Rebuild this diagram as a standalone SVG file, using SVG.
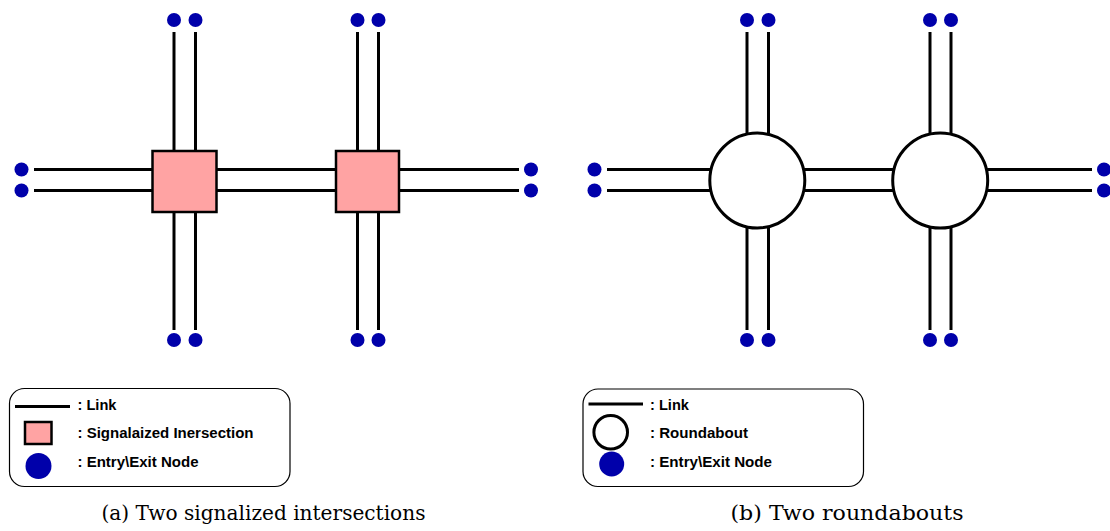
<svg xmlns="http://www.w3.org/2000/svg" width="1110" height="531" viewBox="0 0 1110 531">
  <style>
    .link { stroke: #000; stroke-width: 3; fill: none; }
    .node { fill: #0000aa; }
    .sig { fill: #ffa3a3; stroke: #000; stroke-width: 2.5; }
    .rb { fill: #fff; stroke: #000; stroke-width: 3; }
    .legend { fill: #fff; stroke: #000; stroke-width: 1.2; }
    .lbl { font-family: "Liberation Sans", Arial, sans-serif; font-weight: bold; font-size: 14px; fill: #000; }
    .cap { font-family: "DejaVu Serif", "Liberation Serif", serif; font-size: 19.5px; fill: #000; }
  </style>

  <!-- (a) two signalized intersections -->
  <g id="links-a">
    <!-- west approach -->
    <line class="link" x1="34" y1="169.5" x2="153" y2="169.5"/>
    <line class="link" x1="34" y1="190.5" x2="153" y2="190.5"/>
    <!-- between intersections -->
    <line class="link" x1="216" y1="169.5" x2="336" y2="169.5"/>
    <line class="link" x1="216" y1="190.5" x2="336" y2="190.5"/>
    <!-- east approach -->
    <line class="link" x1="399" y1="169.5" x2="519" y2="169.5"/>
    <line class="link" x1="399" y1="190.5" x2="519" y2="190.5"/>
    <!-- north/south of intersection 1 -->
    <line class="link" x1="174" y1="32" x2="174" y2="151"/>
    <line class="link" x1="195.5" y1="32" x2="195.5" y2="151"/>
    <line class="link" x1="174" y1="212" x2="174" y2="330"/>
    <line class="link" x1="195.5" y1="212" x2="195.5" y2="330"/>
    <!-- north/south of intersection 2 -->
    <line class="link" x1="357.5" y1="32" x2="357.5" y2="151"/>
    <line class="link" x1="378.5" y1="32" x2="378.5" y2="151"/>
    <line class="link" x1="357.5" y1="212" x2="357.5" y2="330"/>
    <line class="link" x1="378.5" y1="212" x2="378.5" y2="330"/>
  </g>

  <g id="intersection-a1"><rect class="sig" x="152.5" y="151" width="64" height="61"/></g>
  <g id="intersection-a2"><rect class="sig" x="336" y="151" width="63" height="61"/></g>

  <g id="nodes-a">
    <circle class="node" cx="174" cy="20" r="7"/>
    <circle class="node" cx="195.5" cy="20" r="7"/>
    <circle class="node" cx="357.5" cy="20" r="7"/>
    <circle class="node" cx="378.5" cy="20" r="7"/>
    <circle class="node" cx="21.5" cy="169.5" r="7"/>
    <circle class="node" cx="21.5" cy="190.5" r="7"/>
    <circle class="node" cx="531" cy="169.5" r="7"/>
    <circle class="node" cx="531" cy="190.5" r="7"/>
    <circle class="node" cx="174" cy="340" r="7"/>
    <circle class="node" cx="195.5" cy="340" r="7"/>
    <circle class="node" cx="357.5" cy="340" r="7"/>
    <circle class="node" cx="378.5" cy="340" r="7"/>
  </g>

  <g id="legend-a">
    <rect class="legend" x="9.5" y="388.5" width="280.5" height="98" rx="15"/>
    <line class="link" x1="15" y1="406.5" x2="70" y2="406.5"/>
    <text class="lbl" x="77.5" y="409.5" textLength="39" lengthAdjust="spacingAndGlyphs">: Link</text>
    <rect class="sig" x="25" y="422" width="26.5" height="22" stroke-width="2"/>
    <text class="lbl" x="77.5" y="437.5" textLength="176" lengthAdjust="spacingAndGlyphs">: Signalaized Inersection</text>
    <circle class="node" cx="38.5" cy="466" r="13"/>
    <text class="lbl" x="77.5" y="466.5" textLength="121" lengthAdjust="spacingAndGlyphs">: Entry\Exit Node</text>
  </g>

  <text class="cap" x="101.5" y="520" textLength="324" lengthAdjust="spacingAndGlyphs">(a)  Two signalized intersections</text>

  <!-- (b) two roundabouts -->
  <g id="links-b">
    <line class="link" x1="607" y1="169.5" x2="710" y2="169.5"/>
    <line class="link" x1="607" y1="190.5" x2="710" y2="190.5"/>
    <line class="link" x1="804" y1="169.5" x2="893" y2="169.5"/>
    <line class="link" x1="804" y1="190.5" x2="893" y2="190.5"/>
    <line class="link" x1="987" y1="169.5" x2="1092" y2="169.5"/>
    <line class="link" x1="987" y1="190.5" x2="1092" y2="190.5"/>
    <line class="link" x1="747" y1="32" x2="747" y2="135"/>
    <line class="link" x1="768.5" y1="32" x2="768.5" y2="135"/>
    <line class="link" x1="747" y1="226" x2="747" y2="330"/>
    <line class="link" x1="768.5" y1="226" x2="768.5" y2="330"/>
    <line class="link" x1="930" y1="32" x2="930" y2="135"/>
    <line class="link" x1="951" y1="32" x2="951" y2="135"/>
    <line class="link" x1="930" y1="226" x2="930" y2="330"/>
    <line class="link" x1="951" y1="226" x2="951" y2="330"/>
  </g>

  <g id="roundabout-b1"><circle class="rb" cx="757.3" cy="180.5" r="47.5"/></g>
  <g id="roundabout-b2"><circle class="rb" cx="940.2" cy="180.5" r="47.5"/></g>

  <g id="nodes-b">
    <circle class="node" cx="747" cy="20" r="7"/>
    <circle class="node" cx="768.5" cy="20" r="7"/>
    <circle class="node" cx="930" cy="20" r="7"/>
    <circle class="node" cx="951" cy="20" r="7"/>
    <circle class="node" cx="594.5" cy="169.5" r="7"/>
    <circle class="node" cx="594.5" cy="190.5" r="7"/>
    <circle class="node" cx="1104" cy="169.5" r="7"/>
    <circle class="node" cx="1104" cy="190.5" r="7"/>
    <circle class="node" cx="747" cy="340" r="7"/>
    <circle class="node" cx="768.5" cy="340" r="7"/>
    <circle class="node" cx="930" cy="340" r="7"/>
    <circle class="node" cx="951" cy="340" r="7"/>
  </g>

  <g id="legend-b">
    <rect class="legend" x="583" y="389" width="280.5" height="97.5" rx="15"/>
    <line class="link" x1="588.5" y1="404" x2="643" y2="404"/>
    <text class="lbl" x="650" y="409.5" textLength="39" lengthAdjust="spacingAndGlyphs">: Link</text>
    <circle class="rb" cx="610.7" cy="432.3" r="16.8"/>
    <text class="lbl" x="650" y="437.5" textLength="98" lengthAdjust="spacingAndGlyphs">: Roundabout</text>
    <circle class="node" cx="611.7" cy="464" r="12.5"/>
    <text class="lbl" x="650" y="466.5" textLength="122" lengthAdjust="spacingAndGlyphs">: Entry\Exit Node</text>
  </g>

  <text class="cap" x="730.5" y="520" textLength="233" lengthAdjust="spacingAndGlyphs">(b)  Two roundabouts</text>
</svg>
